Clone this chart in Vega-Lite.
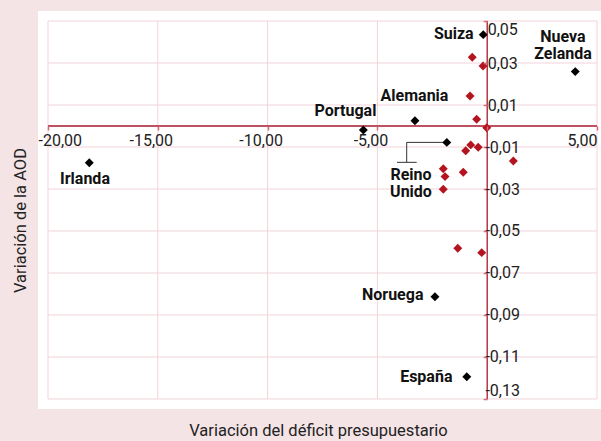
{
  "$schema": "https://vega.github.io/schema/vega-lite/v6.json",
  "width": 563,
  "height": 398,
  "autosize": {"type": "none"},
  "padding": {"left": 38, "top": 11, "right": 0, "bottom": 32},
  "background": "#f5e4e6",
  "config": {"view": {"fill": "white", "stroke": null}},
  "layer": [
    {
      "data": {"values": [{"gx": -20}, {"gx": -15}, {"gx": -10}, {"gx": -5}, {"gx": 5}]},
      "mark": {"type": "rule", "color": "#f3d3d9", "strokeWidth": 1},
      "encoding": {
        "x": {"field": "gx", "type": "quantitative"},
        "y": {"datum": -0.13, "type": "quantitative"},
        "y2": {"datum": 0.05}
      }
    },
    {
      "data": {"values": [{"gy": 0.05}, {"gy": 0.03}, {"gy": 0.01}, {"gy": -0.01}, {"gy": -0.03}, {"gy": -0.05}, {"gy": -0.07}, {"gy": -0.09}, {"gy": -0.11}, {"gy": -0.13}]},
      "mark": {"type": "rule", "color": "#f3d3d9", "strokeWidth": 1},
      "encoding": {
        "y": {"field": "gy", "type": "quantitative"},
        "x": {"datum": -20, "type": "quantitative"},
        "x2": {"datum": 5}
      }
    },
    {
      "data": {"values": [{"k": 1}]},
      "mark": {"type": "rule", "color": "#a8192e", "strokeWidth": 1.3},
      "encoding": {
        "x": {"datum": 0, "type": "quantitative"},
        "y": {"datum": -0.13, "type": "quantitative"},
        "y2": {"datum": 0.05}
      }
    },
    {
      "data": {"values": [{"k": 1}]},
      "mark": {"type": "rule", "color": "#a8192e", "strokeWidth": 1.3},
      "encoding": {
        "y": {"datum": 0, "type": "quantitative"},
        "x": {"datum": -20, "type": "quantitative"},
        "x2": {"datum": 5}
      }
    },
    {
      "data": {"values": [
        {"lx": -1.84, "ly": -0.0078, "o": 1},
        {"lx": -3.666, "ly": -0.0078, "o": 2},
        {"lx": -3.666, "ly": -0.0173, "o": 3}
      ]},
      "mark": {"type": "line", "color": "#333", "strokeWidth": 1},
      "encoding": {
        "x": {"field": "lx", "type": "quantitative"},
        "y": {"field": "ly", "type": "quantitative"},
        "order": {"field": "o"}
      }
    },
    {
      "data": {"values": [{"x1": -4.107, "x2": -3.21, "y": -0.0173}]},
      "mark": {"type": "rule", "color": "#333", "strokeWidth": 1},
      "encoding": {
        "x": {"field": "x1", "type": "quantitative"},
        "x2": {"field": "x2"},
        "y": {"field": "y", "type": "quantitative"}
      }
    },
    {
      "data": {"values": [
        {"pais": "Irlanda", "x": -18.12, "y": -0.0175, "grupo": "destacado"},
        {"pais": "Portugal", "x": -5.64, "y": -0.0019, "grupo": "destacado"},
        {"pais": "Alemania", "x": -3.29, "y": 0.0025, "grupo": "destacado"},
        {"pais": "Reino Unido", "x": -1.84, "y": -0.0078, "grupo": "destacado"},
        {"pais": "Suiza", "x": -0.18, "y": 0.0435, "grupo": "destacado"},
        {"pais": "Nueva Zelanda", "x": 4.01, "y": 0.0259, "grupo": "destacado"},
        {"pais": "Noruega", "x": -2.38, "y": -0.0813, "grupo": "destacado"},
        {"pais": "España", "x": -0.93, "y": -0.1194, "grupo": "destacado"},
        {"pais": "", "x": -0.68, "y": 0.0327, "grupo": "otros"},
        {"pais": "", "x": -0.19, "y": 0.0286, "grupo": "otros"},
        {"pais": "", "x": -0.78, "y": 0.0143, "grupo": "otros"},
        {"pais": "", "x": -0.48, "y": 0.0032, "grupo": "otros"},
        {"pais": "", "x": -0.02, "y": -0.0008, "grupo": "otros"},
        {"pais": "", "x": -0.75, "y": -0.0090, "grupo": "otros"},
        {"pais": "", "x": -0.41, "y": -0.0101, "grupo": "otros"},
        {"pais": "", "x": -0.98, "y": -0.0118, "grupo": "otros"},
        {"pais": "", "x": 1.19, "y": -0.0167, "grupo": "otros"},
        {"pais": "", "x": -2.00, "y": -0.0204, "grupo": "otros"},
        {"pais": "", "x": -1.09, "y": -0.0220, "grupo": "otros"},
        {"pais": "", "x": -1.92, "y": -0.0241, "grupo": "otros"},
        {"pais": "", "x": -2.00, "y": -0.0301, "grupo": "otros"},
        {"pais": "", "x": -1.34, "y": -0.0582, "grupo": "otros"},
        {"pais": "", "x": -0.25, "y": -0.0603, "grupo": "otros"}
      ]},
      "mark": {"type": "point", "shape": "diamond", "filled": true, "size": 80, "opacity": 1},
      "encoding": {
        "x": {
          "field": "x", "type": "quantitative",
          "scale": {"domain": [-20.4554, 5.1821], "nice": false, "zero": false},
          "axis": {
            "orient": "bottom", "offset": -283, "zindex": 1,
            "values": [-20, -15, -10, -5, 0, 5],
            "labelExpr": "datum.value == 0 ? '' : (datum.value < 0 ? '-' : '') + replace(format(abs(datum.value), '.2f'), '.', ',')",
            "labelFont": "Roboto", "labelFontSize": 16, "labelColor": "#222",
            "labelBaseline": "top", "labelPadding": 2,
            "labelOffset": {"condition": {"test": "datum.value == 5", "value": -3}, "value": -7},
            "labelFlush": 15, "labelFlushOffset": 3, "labelOverlap": false,
            "ticks": true, "tickSize": 4, "tickColor": "#d46a7a", "tickWidth": 1.5,
            "domain": false, "grid": false,
            "title": "Variación del déficit presupuestario",
            "titleFont": "Roboto", "titleFontSize": 16.5, "titleFontWeight": "normal", "titleColor": "#222",
            "titleX": 280, "titleY": 309, "titleAlign": "center", "titleBaseline": "alphabetic"
          }
        },
        "y": {
          "field": "y", "type": "quantitative",
          "scale": {"domain": [-0.134762, 0.054762], "nice": false, "zero": false},
          "axis": {
            "orient": "right", "offset": -113.8, "zindex": 1,
            "values": [0.05, 0.03, 0.01, -0.01, -0.03, -0.05, -0.07, -0.09, -0.11, -0.13],
            "labelExpr": "(datum.value < 0 ? '-' : '') + replace(format(abs(datum.value), '.2f'), '.', ',')",
            "labelFont": "Roboto", "labelFontSize": 16, "labelColor": "#222",
            "labelAlign": "center", "labelPadding": 19, "labelFlush": 12, "labelOverlap": false,
            "ticks": true, "tickSize": -4, "tickColor": "#d46a7a", "tickWidth": 1.5,
            "domain": false, "grid": false,
            "title": "Variación de la AOD",
            "titleFont": "Roboto", "titleFontSize": 16.5, "titleFontWeight": "normal", "titleColor": "#222",
            "titleAngle": -90, "titleX": -462.2, "titleY": 209, "titleAlign": "center", "titleBaseline": "alphabetic"
          }
        },
        "color": {"field": "grupo", "type": "nominal", "scale": {"domain": ["destacado", "otros"], "range": ["#000000", "#b4141f"]}, "legend": null}
      }
    },
    {
      "data": {"values": [
        {"texto": "Irlanda", "lx": -18.315, "ly": -0.02762},
        {"texto": "Portugal", "lx": -6.453, "ly": 0.00476},
        {"texto": "Alemania", "lx": -3.311, "ly": 0.01205},
        {"texto": "Suiza", "lx": -1.521, "ly": 0.04143},
        {"texto": "Nueva\nZelanda", "lx": 3.452, "ly": 0.04014},
        {"texto": "Reino\nUnido", "lx": -3.47, "ly": -0.02571},
        {"texto": "Noruega", "lx": -4.303, "ly": -0.08286},
        {"texto": "España", "lx": -2.773, "ly": -0.12167}
      ]},
      "mark": {"type": "text", "font": "Roboto", "fontWeight": "bold", "fontSize": 16, "color": "#111", "align": "center", "baseline": "alphabetic", "lineBreak": "\n", "lineHeight": 17.5},
      "encoding": {
        "x": {"field": "lx", "type": "quantitative"},
        "y": {"field": "ly", "type": "quantitative"},
        "text": {"field": "texto"}
      }
    }
  ]
}
